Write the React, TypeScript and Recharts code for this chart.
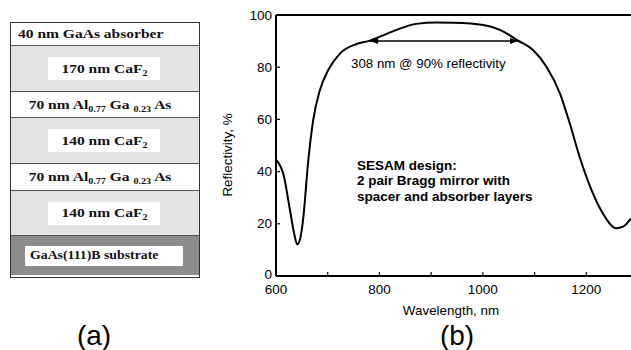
import { Line, LineChart, ReferenceDot, ReferenceLine, XAxis, YAxis } from "recharts";

// reflectivity curve
const wavelength = [
  600, 606, 614, 627, 635, 641, 647, 653, 662, 672, 685, 701, 724, 756, 782, 801,
  833, 871, 910, 943, 1001, 1033, 1068, 1097, 1123, 1149, 1168, 1187, 1210, 1232,
  1258, 1271, 1286,
];
const reflectivity = [
  44.6, 43, 39.3, 25.3, 16.4, 12.1, 14.5, 22.7, 43.4, 59.8, 71.3, 78.9, 85.3, 88.9,
  90.2, 91.7, 94.3, 96.6, 97.1, 97, 96.2, 94.3, 90.2, 86.6, 80.2, 70, 58.5, 45.7, 33,
  24, 18.3, 18.9, 22,
];

const xTicks = [600, 700, 800, 900, 1000, 1100, 1200, 1300];
const xTickLabels = [600, 800, 1000, 1200];
const yTicks = [0, 20, 40, 60, 80, 100];

// 90% reflectivity band edges (308 nm wide)
const bandEdges = [782, 1068];
const bandLevel = 90;

// panel (a): layer stack, top to bottom
const layerLabels = [
  "40 nm GaAs absorber",
  "170 nm CaF_{2}",
  "70 nm Al_{0.77} Ga _{0.23} As",
  "140 nm CaF_{2}",
  "70 nm Al_{0.77} Ga _{0.23} As",
  "140 nm CaF_{2}",
  "GaAs(111)B substrate",
];
const layerKinds = ["absorber", "spacer", "mirror", "spacer", "mirror", "spacer", "substrate"];

const data = wavelength.map((nm, i) => ({ nm, r: reflectivity[i] }));

const SANS = "'Liberation Sans', Arial, Helvetica, sans-serif";
const SERIF = "'Liberation Serif', 'Times New Roman', serif";
const layerHeights = [22, 46, 26, 46, 27, 45, 42];

function richLabel(text: string) {
  const parts = text.split(/_\{([^}]*)\}/);
  return parts.map((p, i) =>
    i % 2 === 1 ? (
      <span key={i} style={{ fontSize: "0.65em", position: "relative", top: "0.35em" }}>
        {p}
      </span>
    ) : (
      <span key={i}>{p}</span>
    )
  );
}

function LayerStack() {
  return (
    <div
      style={{
        position: "absolute",
        left: 10,
        top: 22,
        width: 190,
        height: 256,
        border: "1px solid #333",
        boxSizing: "border-box",
        fontFamily: SERIF,
        fontWeight: "bold",
        color: "#111",
      }}
    >
      {layerLabels.map((label, i) => {
        const kind = layerKinds[i];
        const bg = kind === "spacer" ? "#e3e3e3" : kind === "substrate" ? "#8c8c8c" : "#fff";
        const text = (
          <span
            style={{
              display: "inline-block",
              whiteSpace: "nowrap",
              fontSize: kind === "substrate" ? 12 : 13.5,
              transform: "scaleX(1.15)",
              transformOrigin: kind === "absorber" || kind === "substrate" ? "left center" : "center",
            }}
          >
            {richLabel(label)}
          </span>
        );
        return (
          <div
            key={i}
            style={{
              position: "relative",
              height: layerHeights[i] - (i === layerLabels.length - 1 ? 2 : 0),
              background: bg,
              borderTop: i === 0 ? "none" : "1px solid #555",
              boxSizing: "border-box",
              display: "flex",
              alignItems: "center",
              justifyContent: kind === "absorber" ? "flex-start" : "center",
              paddingLeft: kind === "absorber" ? 7 : 0,
              paddingRight: kind === "mirror" ? 10 : 0,
            }}
          >
            {kind === "spacer" ? (
              <div
                style={{
                  position: "absolute",
                  left: 37,
                  width: 112,
                  height: 23,
                  background: "#fff",
                  display: "flex",
                  alignItems: "center",
                  justifyContent: "center",
                }}
              >
                {text}
              </div>
            ) : kind === "substrate" ? (
              <div
                style={{
                  position: "absolute",
                  left: 14,
                  width: 158,
                  height: 20,
                  background: "#fff",
                  display: "flex",
                  alignItems: "center",
                  paddingLeft: 5,
                  boxSizing: "border-box",
                }}
              >
                {text}
              </div>
            ) : (
              text
            )}
          </div>
        );
      })}
    </div>
  );
}

function XTick(props: any) {
  const { x, y, payload } = props;
  const v = payload.value;
  return (
    <g>
      <line x1={x} x2={x} y1={y} y2={y - 4} stroke="#000" strokeWidth={1.2} />
      {xTickLabels.includes(v) && (
        <text
          x={x}
          y={y + 13}
          textAnchor="middle"
          dominantBaseline="central"
          fontSize={13.5}
          fontFamily={SANS}
          fill="#000"
        >
          {v}
        </text>
      )}
    </g>
  );
}

function YTick(props: any) {
  const { x, y, payload } = props;
  return (
    <g>
      <line x1={x} x2={x + 4} y1={y} y2={y} stroke="#000" strokeWidth={1.2} />
      <text
        x={x - 4}
        y={payload.value === 0 ? y - 2 : y}
        textAnchor="end"
        dominantBaseline="central"
        fontSize={13.5}
        fontFamily={SANS}
        fill="#000"
      >
        {payload.value}
      </text>
    </g>
  );
}

function Arrowhead(props: any) {
  const { cx, cy, dir } = props;
  const d = dir < 0 ? -1 : 1;
  return (
    <path
      d={`M${cx},${cy} L${cx - d * 8},${cy - 3} L${cx - d * 8},${cy + 3} Z`}
      fill="#000"
    />
  );
}

export default function App() {
  return (
    <div
      style={{
        position: "absolute",
        left: 0,
        top: 0,
        width: 631,
        height: 350,
        overflow: "hidden",
        background: "#fff",
      }}
    >
      <LayerStack />
      <LineChart
        width={643}
        height={350}
        data={data}
        margin={{ top: 15, right: 5, bottom: 44, left: 226 }}
        style={{ position: "absolute", left: 0, top: 0 }}
      >
        <XAxis
          type="number"
          dataKey="nm"
          domain={[600, 1300]}
          ticks={xTicks}
          interval={0}
          tick={(p: any) => <XTick {...p} />}
          tickLine={false}
          tickSize={0}
          tickMargin={0}
          height={30}
          axisLine={{ stroke: "#000", strokeWidth: 2 }}
          allowDataOverflow
        />
        <YAxis
          type="number"
          domain={[0, 100]}
          ticks={yTicks}
          interval={0}
          tick={(p: any) => <YTick {...p} />}
          tickLine={false}
          tickSize={0}
          tickMargin={0}
          width={50}
          axisLine={{ stroke: "#000", strokeWidth: 2 }}
        />
        <ReferenceLine y={100} stroke="#000" strokeWidth={2} ifOverflow="visible" />
        <Line
          type="monotone"
          dataKey="r"
          stroke="#000"
          strokeWidth={2}
          dot={false}
          isAnimationActive={false}
        />
        <ReferenceLine
          segment={[
            { x: bandEdges[0], y: bandLevel },
            { x: bandEdges[1], y: bandLevel },
          ]}
          stroke="#000"
          strokeWidth={1.5}
        />
        <ReferenceDot
          x={bandEdges[0]}
          y={bandLevel}
          r={0}
          shape={(p: any) => <Arrowhead {...p} dir={-1} />}
        />
        <ReferenceDot
          x={bandEdges[1]}
          y={bandLevel}
          r={0}
          shape={(p: any) => <Arrowhead {...p} dir={1} />}
        />
      </LineChart>
      <svg
        width={631}
        height={350}
        style={{ position: "absolute", left: 0, top: 0, pointerEvents: "none" }}
        fontFamily={SANS}
      >
        <text
          transform="translate(227,155) rotate(-90)"
          textAnchor="middle"
          dominantBaseline="central"
          fontSize={13.4}
        >
          Reflectivity, %
        </text>
        <text x={451} y={310} textAnchor="middle" dominantBaseline="central" fontSize={13.4}>
          Wavelength, nm
        </text>
        <text x={351} y={63} dominantBaseline="central" fontSize={13.3}>
          308 nm @ 90% reflectivity
        </text>
        <g fontWeight="bold" fontSize={13.5}>
          <text x={357} y={165} dominantBaseline="central">SESAM design:</text>
          <text x={357} y={180.5} dominantBaseline="central">2 pair Bragg mirror with</text>
          <text x={357} y={196} dominantBaseline="central">spacer and absorber layers</text>
        </g>
        <text x={94} y={345} textAnchor="middle" fontSize={28}>
          (a)
        </text>
        <text x={457} y={345} textAnchor="middle" fontSize={28}>
          (b)
        </text>
      </svg>
    </div>
  );
}
